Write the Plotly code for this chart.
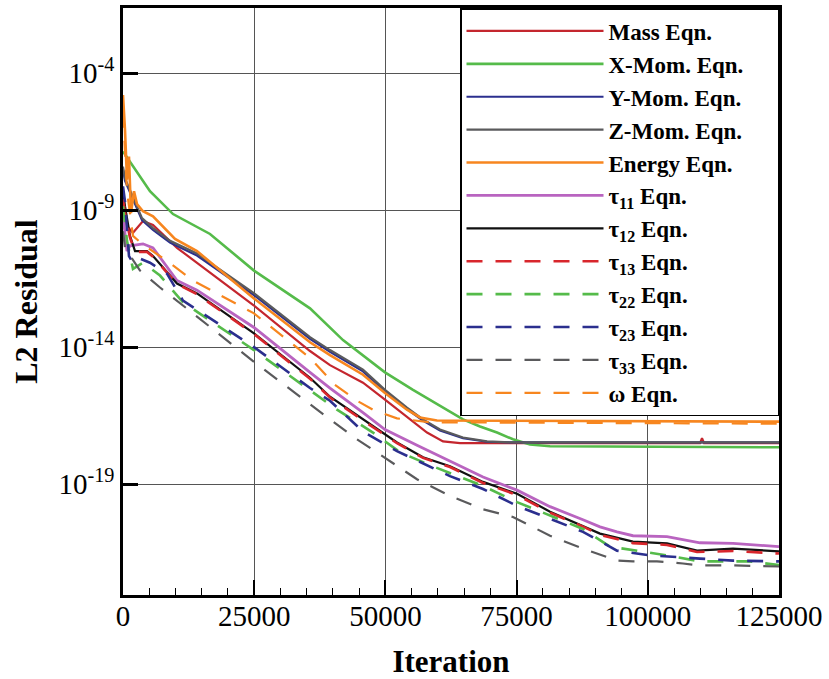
import plotly.graph_objects as go

# ---------------- data ----------------
series_names = ["Mass Eqn.", "X-Mom. Eqn.\u00a0\u00a0\u00a0\u00a0\u00a0", "Y-Mom. Eqn.", "Z-Mom. Eqn.", "Energy Eqn.",
                "τ<sub>11</sub> Eqn.", "τ<sub>12</sub> Eqn.", "τ<sub>13</sub> Eqn.",
                "τ<sub>22</sub> Eqn.", "τ<sub>23</sub> Eqn.", "τ<sub>33</sub> Eqn.", "ω Eqn."]

mass_it = [0, 760, 1900, 3810, 5720, 10290, 24960, 35630, 39440, 45730, 49920, 54110, 57930,
           60980, 64220, 109950, 110330, 110720, 125000]
mass_res = [3.2e-9, 2.6e-10, 1.5e-10, 4.0e-10, 2.9e-10, 4.2e-11, 3.3e-13, 7.2e-15, 2.2e-15,
            5.0e-16, 1.2e-16, 2.9e-17, 7.6e-18, 3.6e-18, 3.1e-18, 3.1e-18, 4.7e-18, 3.1e-18, 3.1e-18]

xmom_it = [0, 1700, 5140, 9530, 16580, 24960, 35630, 41920, 49920, 55260, 58500, 61740, 64790,
           68030, 71270, 74310, 77550, 81370, 125000]
xmom_res = [1.38e-7, 4.7e-8, 4.9e-9, 7.2e-10, 1.35e-10, 6.2e-12, 2.6e-13, 1.8e-14, 1.2e-15,
            2.75e-16, 1.2e-16, 5.2e-17, 2.3e-17, 1.26e-17, 7.6e-18, 4.3e-18, 2.8e-18, 2.4e-18, 2.2e-18]

zmom_it = [0, 380, 3620, 5720, 8960, 14100, 25000, 35630, 39440, 45730, 49920, 54110, 57160,
           60400, 64790, 69360, 74310, 125000]
ymom_res = [3.0e-8, 1.2e-8, 4.3e-10, 1.9e-10, 6.5e-11, 2.2e-11, 7.8e-13, 2.0e-14, 6.7e-15,
            1.3e-15, 2.4e-16, 5.5e-17, 2.1e-17, 9.0e-18, 4.7e-18, 3.5e-18, 3.3e-18, 3.3e-18]
zmom_res = [3.9e-8, 1.45e-8, 5.1e-10, 2.2e-10, 7.6e-11, 2.6e-11, 9.1e-13, 2.3e-14, 7.8e-15,
            1.5e-15, 2.75e-16, 6.2e-17, 2.3e-17, 9.8e-18, 5.0e-18, 3.6e-18, 3.3e-18, 3.3e-18]

energy_it = [0, 380, 760, 1140, 1520, 2100, 2670, 3810, 5720, 9910, 14100, 24960, 35630, 39440,
             45730, 49920, 54110, 56590, 59830, 125000]
energy_res = [1.6e-5, 8.5e-7, 1.3e-8, 9.1e-8, 7.8e-10, 4.9e-9, 1.66e-9, 9.1e-10, 6.0e-10, 8.9e-11,
              3.2e-11, 6.0e-13, 1.5e-14, 5.1e-15, 9.8e-16, 2.1e-16, 5.2e-17, 2.7e-17, 2.1e-17, 1.9e-17]

t11_it = [0, 760, 1330, 3810, 5720, 10290, 14100, 24960, 35630, 39440, 45730, 49920, 56020,
          62310, 68600, 75080, 81370, 87650, 90890, 94130, 97180, 103660, 109950, 116240, 125000]
t11_res = [6.0e-10, 3.2e-11, 5.0e-11, 5.9e-11, 4.2e-11, 2.7e-12, 1.2e-12, 5.2e-14, 1.2e-15,
           3.2e-16, 4.1e-17, 9.8e-18, 2.6e-18, 6.8e-19, 1.8e-19, 6.0e-20, 1.5e-20, 5.0e-21,
           2.75e-21, 1.8e-21, 1.3e-21, 1.2e-21, 7.2e-22, 6.8e-22, 5.2e-22]

t12_it = [0, 380, 1330, 2290, 4570, 5720, 10290, 14100, 24960, 35630, 39440, 45730, 52210,
          57160, 62310, 68600, 75080, 81370, 87650, 90890, 97180, 103660, 109380, 116240, 125000]
t12_res = [4.9e-9, 1.4e-9, 1.15e-10, 3.2e-11, 3.2e-11, 2.1e-11, 2.1e-12, 9.1e-13, 3.2e-14,
           7.6e-16, 1.55e-16, 2.3e-17, 3.3e-18, 9.5e-19, 4.5e-19, 1.2e-19, 4.4e-20, 9.8e-21,
           3.0e-21, 1.55e-21, 7.9e-22, 6.8e-22, 3.7e-22, 4.4e-22, 3.5e-22]
t13_res = [2.5e-9, 8.0e-10, 1.0e-10, 3.0e-11, 3.0e-11, 2.0e-11, 2.0e-12, 8.5e-13, 3.0e-14,
           7.0e-16, 1.45e-16, 2.1e-17, 3.1e-18, 9.0e-19, 4.2e-19, 1.1e-19, 4.0e-20, 9.0e-21,
           2.8e-21, 1.4e-21, 7.0e-22, 6.0e-22, 3.3e-22, 3.6e-22, 2.9e-22]

t22_it = [0, 760, 1900, 3810, 7050, 11430, 24960, 35630, 40770, 47630, 52780, 58500, 62310,
          68600, 75080, 81370, 87650, 92800, 103660, 109950, 119480, 125000]
t22_res = [1.4e-9, 7.6e-11, 7.2e-12, 1.2e-11, 4.1e-12, 4.3e-13, 7.8e-15, 2.75e-16, 5.2e-17,
           7.6e-18, 1.45e-18, 4.9e-19, 2.5e-19, 8.5e-20, 2.2e-20, 6.9e-21, 2.3e-21, 5.2e-22,
           2.5e-22, 1.5e-22, 1.5e-22, 1.1e-22]

t23_it = [0, 380, 1140, 1900, 3240, 5140, 8380, 11430, 24960, 35630, 39440, 45730, 52210,
          58500, 62310, 68600, 75080, 81370, 87650, 94130, 100420, 109950, 116240, 125000]
t23_res = [7.4e-9, 2.1e-9, 2.1e-11, 1.2e-11, 1.7e-11, 1.2e-11, 4.8e-12, 5.0e-13, 1.0e-14,
           3.2e-16, 1.1e-16, 8.3e-18, 1.6e-18, 4.2e-19, 1.95e-19, 6.6e-20, 1.6e-20, 5.4e-21,
           1.8e-21, 3.7e-22, 2.5e-22, 1.9e-22, 1.6e-22, 1.5e-22]

t33_it = [0, 380, 3240, 7050, 13340, 24960, 39440, 44580, 48970, 56020, 62310, 68600, 74310,
          81370, 87650, 94130, 97180, 101760, 106710, 109950, 116240, 125000]
t33_res = [1.7e-10, 4.2e-11, 6.2e-12, 1.5e-12, 1.7e-13, 2.9e-15, 2.3e-17, 4.3e-18, 1.2e-18,
           1.5e-19, 3.7e-20, 1.2e-20, 6.3e-21, 1.3e-21, 4.4e-22, 1.6e-22, 1.5e-22, 1.5e-22,
           1.26e-22, 1.07e-22, 1.07e-22, 9.8e-23]

omega_it = [0, 760, 1900, 3620, 8380, 13340, 24960, 35630, 40390, 44580, 47630, 52200, 58500, 125000]
omega_res = [3.9e-6, 4.9e-9, 1.15e-10, 5.9e-11, 1.4e-11, 2.7e-12, 1.7e-13, 4.0e-15, 4.2e-16,
             1.1e-16, 5.2e-17, 2.5e-17, 1.8e-17, 1.6e-17]

x_tickvals = [0, 25000, 50000, 75000, 100000, 125000]
x_ticktext = ["0", "25000", "50000", "75000", "100000", "125000"]
y_tickvals = [1e-4, 1e-9, 1e-14, 1e-19]
y_ticktext = ["10<sup>-4</sup>", "10<sup>-9</sup>", "10<sup>-14</sup>", "10<sup>-19</sup>"]

# ---------------- styling ----------------
RED = "#c4262e"
GREEN = "#55bb4a"
BLUE = "#2b2f8e"
GRAY = "#5a5a5c"
ORANGE = "#f7861f"
MAGENTA = "#b964c0"
BLACK = "#111111"
DASH = "16px,13px"

series = [
    (mass_it, mass_res, RED, "solid", 2.2),
    (xmom_it, xmom_res, GREEN, "solid", 2.6),
    (zmom_it, ymom_res, BLUE, "solid", 2.2),
    (zmom_it, zmom_res, GRAY, "solid", 2.2),
    (energy_it, energy_res, ORANGE, "solid", 2.6),
    (t11_it, t11_res, MAGENTA, "solid", 2.8),
    (t12_it, t12_res, BLACK, "solid", 2.2),
    (t12_it, t13_res, "#d8262c", DASH, 2.6),
    (t22_it, t22_res, GREEN, DASH, 2.6),
    (t23_it, t23_res, BLUE, DASH, 2.6),
    (t33_it, t33_res, GRAY, DASH, 2.2),
    (omega_it, omega_res, ORANGE, DASH, 2.2),
]

FONT = "Liberation Serif, Times New Roman, serif"

fig = go.Figure()
for name, (xs, ys, col, dash, w) in zip(series_names, series):
    fig.add_trace(go.Scatter(x=xs, y=ys, mode="lines", name=name,
                             line=dict(color=col, width=w, dash=dash)))

fig.update_layout(
    width=829, height=679,
    margin=dict(l=123, r=50, t=5, b=82),
    paper_bgcolor="white", plot_bgcolor="white",
    font=dict(family=FONT, color="black", size=29),
    showlegend=True,
    legend=dict(x=1, y=1, xanchor="right", yanchor="top",
                bgcolor="white", bordercolor="black", borderwidth=1.5,
                font=dict(family=FONT, size=23, color="black", weight="bold"),
                itemwidth=137, tracegroupgap=0),
)

fig.update_xaxes(
    range=[0, 125000], tickmode="array", tickvals=x_tickvals, ticktext=x_ticktext,
    ticks="inside", ticklen=15, tickwidth=2, tickcolor="black",
    minor=dict(tick0=0, dtick=5000, ticks="inside", ticklen=7, tickwidth=1,
               tickcolor="black", showgrid=False),
    showline=True, linewidth=2.5, linecolor="black", mirror=True,
    showgrid=True, gridcolor="#555555", gridwidth=1, zeroline=False,
    tickfont=dict(family=FONT, size=29, color="black"), ticklabelstandoff=-7,
    title=dict(text="<b>Iteration</b>", font=dict(family=FONT, size=31, color="black"), standoff=21),
)
fig.update_yaxes(
    type="log", range=[-23.05, -1.62], tickmode="array", tickvals=y_tickvals, ticktext=y_ticktext,
    ticks="inside", ticklen=15, tickwidth=2.5, tickcolor="black",
    showline=True, linewidth=2.5, linecolor="black", mirror=True,
    showgrid=True, gridcolor="#555555", gridwidth=1, zeroline=False,
    tickfont=dict(family=FONT, size=29, color="black"),
    title=dict(text="<b>L2 Residual</b>", font=dict(family=FONT, size=32, color="black"), standoff=12),
)

fig.write_html("out.html", config={"displayModeBar": False},
               post_script="document.body.style.margin='0';document.body.style.padding='0';")
